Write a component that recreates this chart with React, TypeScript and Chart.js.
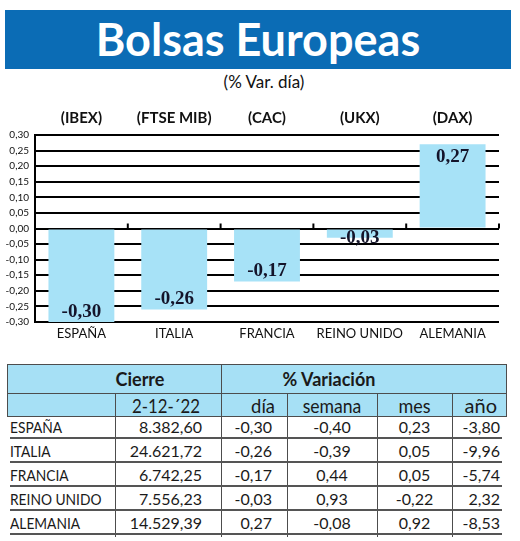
import React, { useEffect, useRef } from 'react';
import { Chart, registerables } from 'chart.js';

Chart.register(...registerables);

// ---- data ----
const countries = ['ESPAÑA', 'ITALIA', 'FRANCIA', 'REINO UNIDO', 'ALEMANIA'];
const indexNames = ['(IBEX)', '(FTSE MIB)', '(CAC)', '(UKX)', '(DAX)'];
const dayChange = [-0.3, -0.26, -0.17, -0.03, 0.27];
const closeValues = [8382.6, 24621.72, 6742.25, 7556.23, 14529.39];
const weekChange = [-0.4, -0.39, 0.44, 0.93, -0.08];
const monthChange = [0.23, 0.05, 0.05, -0.22, 0.92];
const yearChange = [-3.8, -9.96, -5.74, 2.32, -8.53];
const closeDate = '2-12-´22';
const yMin = -0.3;
const yMax = 0.3;
const yStep = 0.05;

const BAR = '#a7e2f7';
const HEAD = '#a6e0f5';
const FONT = 'Lato, "Open Sans", sans-serif';

function fmt(v: number): string {
  return (Math.abs(v) < 1e-9 ? 0 : v).toFixed(2).replace('.', ',');
}

function fmtThousands(v: number): string {
  const [intPart, dec] = v.toFixed(2).split('.');
  const withDots = intPart.replace(/\B(?=(\d{3})+(?!\d))/g, '.');
  return withDots + ',' + dec;
}

const barLabelPlugin = {
  id: 'barLabels',
  afterDatasetsDraw(chart: any) {
    const ctx = chart.ctx;
    const xs = chart.scales.x;
    const ys = chart.scales.y;
    const y0 = ys.getPixelForValue(0);
    const n = xs.ticks.length;
    const half = xs.width / (2 * n);
    ctx.save();
    ctx.strokeStyle = '#000';
    ctx.lineWidth = 2;
    for (let i = 0; i < n; i++) {
      const bx = xs.getPixelForTick(i) + half;
      ctx.beginPath();
      ctx.moveTo(bx, y0 - 5);
      ctx.lineTo(bx, y0);
      ctx.stroke();
    }
    const meta = chart.getDatasetMeta(0);
    ctx.font = 'bold 19px "Liberation Serif", serif';
    ctx.textAlign = 'center';
    ctx.textBaseline = 'middle';
    ctx.fillStyle = '#14142a';
    meta.data.forEach((bar: any, i: number) => {
      const v = dayChange[i];
      let ly = v < 0 ? bar.y - 10 : bar.y + 13;
      if (Math.abs(bar.y - bar.base) < 22) ly = bar.y;
      ctx.fillText(fmt(v), bar.x, ly);
    });
    ctx.restore();
  },
};

function BarChart() {
  const ref = useRef<HTMLCanvasElement | null>(null);
  useEffect(() => {
    if (!ref.current) return;
    const chart = new Chart(ref.current, {
      type: 'bar',
      data: {
        labels: countries,
        datasets: [
          {
            data: dayChange,
            backgroundColor: BAR,
            borderWidth: 0,
            barPercentage: 0.71,
            categoryPercentage: 1,
          },
        ],
      },
      options: {
        animation: false,
        responsive: false,
        maintainAspectRatio: false,
        layout: { padding: { left: 0, right: 21, top: 0, bottom: 0 } },
        plugins: { legend: { display: false }, tooltip: { enabled: false } },
        scales: {
          x: {
            position: 'bottom',
            grid: { display: false, drawTicks: false },
            border: { display: false },
            ticks: {
              color: '#111',
              font: { family: FONT, size: 13 },
              padding: 4,
              maxRotation: 0,
              autoSkip: false,
            },
            afterFit: (s: any) => {
              s.height = 28;
            },
          },
          x2: {
            type: 'category',
            labels: indexNames,
            position: 'top',
            offset: true,
            grid: { display: false, drawTicks: false },
            border: { display: false },
            ticks: {
              color: '#111',
              font: { family: FONT, size: 15, weight: 'bold' },
              padding: 8,
              maxRotation: 0,
              autoSkip: false,
            },
            afterFit: (s: any) => {
              s.height = 43;
            },
          },
          y: {
            min: yMin,
            max: yMax,
            ticks: {
              stepSize: yStep,
              callback: (v: any) => fmt(Number(v)),
              color: '#111',
              font: { family: FONT, size: 10 },
              padding: 6,
            },
            grid: { color: '#000', lineWidth: 2, drawTicks: false },
            border: { color: '#000', width: 2 },
            afterFit: (s: any) => {
              s.width = 35;
            },
          },
        },
      } as any,
      plugins: [barLabelPlugin],
    });
    return () => chart.destroy();
  }, []);
  return <canvas ref={ref} width={520} height={258} style={{ width: 520, height: 258, display: 'block' }} />;
}

const abs = (o: React.CSSProperties): React.CSSProperties => ({ position: 'absolute', ...o });

function Txt(props: {
  x: number;
  w: number;
  y: number;
  h?: number;
  align: 'left' | 'right' | 'center';
  size: number;
  bold?: boolean;
  sx?: number;
  children: React.ReactNode;
}) {
  const h = props.h ?? 24;
  const origin = props.align === 'left' ? 'left center' : props.align === 'right' ? 'right center' : 'center center';
  return (
    <div
      style={abs({
        left: props.x,
        top: props.y,
        width: props.w,
        height: h,
        lineHeight: h + 'px',
        textAlign: props.align,
        fontSize: props.size,
        fontWeight: props.bold ? 700 : 400,
        color: '#1a1a1a',
        whiteSpace: 'nowrap',
        transform: props.sx ? `scaleX(${props.sx})` : undefined,
        transformOrigin: origin,
      })}
    >
      {props.children}
    </div>
  );
}

export default function App() {
  const colX = [7, 115, 221, 287, 377, 452, 507];
  const lineColor = '#4d4d4d';
  const rowTop = 418;
  const rowH = 24;
  const tableBottom = 537;
  return (
    <div style={abs({ left: 0, top: 0, width: 520, height: 541, background: '#fff', overflow: 'hidden', fontFamily: FONT })}>
      <div
        style={abs({
          left: 5,
          top: 10,
          width: 506,
          height: 59,
          background: '#0b6cb5',
          color: '#fff',
          fontWeight: 700,
          fontSize: 45,
          lineHeight: '59px',
          textAlign: 'center',
        })}
      >
        Bolsas Europeas
      </div>
      <div style={abs({ left: 4, top: 72, width: 520, height: 20, lineHeight: '20px', textAlign: 'center', fontSize: 17, color: '#111' })}>
        (% Var. día)
      </div>
      <div style={abs({ left: 0, top: 92, width: 520, height: 258 })}>
        <BarChart />
      </div>

      {/* table header */}
      <div style={abs({ left: 7, top: 364, width: 500, height: 53, background: HEAD, border: '1px solid ' + lineColor, boxSizing: 'border-box' })} />
      <div style={abs({ left: 7, top: 393, width: 500, height: 1, background: lineColor })} />
      <div style={abs({ left: colX[2], top: 364, width: 1, height: tableBottom - 364, background: lineColor })} />
      {[1, 3, 4, 5].map((i) => (
        <div key={i} style={abs({ left: colX[i], top: 393, width: 1, height: tableBottom - 393, background: lineColor })} />
      ))}
      <Txt x={90} w={100} y={366} h={26} align="center" size={18} bold>
        Cierre
      </Txt>
      <Txt x={279} w={100} y={366} h={26} align="center" size={18} bold>
        % Variación
      </Txt>
      <Txt x={115} w={85} y={393} align="right" size={20} sx={0.84}>
        {closeDate}
      </Txt>
      <Txt x={221} w={54} y={393} align="right" size={20} sx={0.92}>
        día
      </Txt>
      <Txt x={287} w={90} y={393} align="center" size={20} sx={0.88}>
        semana
      </Txt>
      <Txt x={377} w={75} y={393} align="center" size={20} sx={0.9}>
        mes
      </Txt>
      <Txt x={452} w={45} y={393} align="right" size={20}>
        año
      </Txt>

      {countries.map((c, i) => {
        const top = rowTop + i * rowH;
        return (
          <React.Fragment key={c}>
            <Txt x={10} w={105} y={top - 3} align="left" size={16} sx={0.86}>
              {c}
            </Txt>
            <Txt x={115} w={87} y={top - 3} align="right" size={16}>
              {fmtThousands(closeValues[i])}
            </Txt>
            <Txt x={221} w={51} y={top - 3} align="right" size={16}>
              {fmt(dayChange[i])}
            </Txt>
            <Txt x={287} w={90} y={top - 3} align="center" size={16}>
              {fmt(weekChange[i])}
            </Txt>
            <Txt x={377} w={75} y={top - 3} align="center" size={16}>
              {fmt(monthChange[i])}
            </Txt>
            <Txt x={452} w={48} y={top - 3} align="right" size={16}>
              {fmt(yearChange[i])}
            </Txt>
            <div style={abs({ left: 10, top: top + 19, width: 492, height: 1.5, background: '#555' })} />
          </React.Fragment>
        );
      })}
    </div>
  );
}
